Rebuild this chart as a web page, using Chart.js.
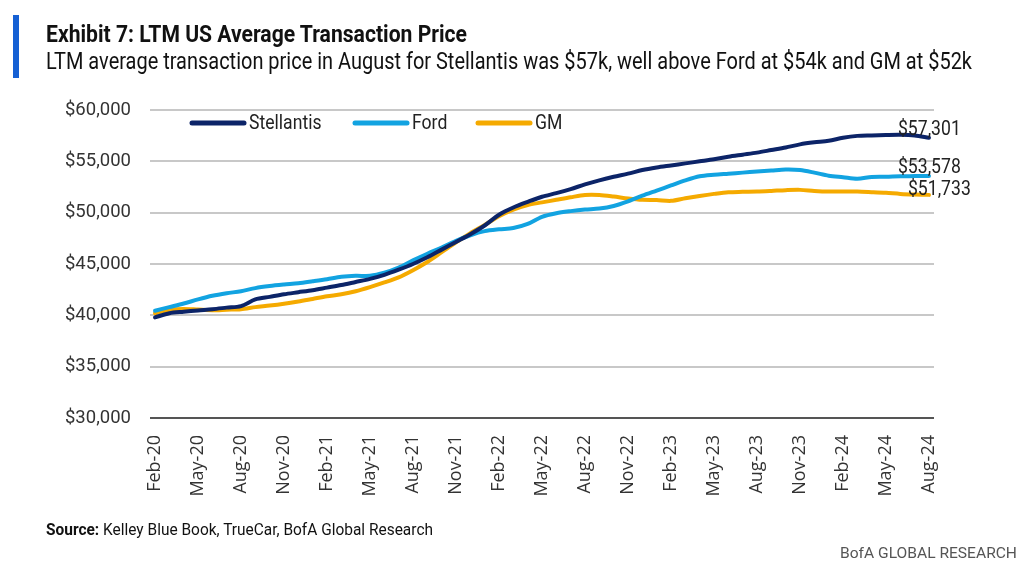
<!DOCTYPE html>
<html><head><meta charset="utf-8">
<script src="https://cdn.jsdelivr.net/npm/chart.js@4.4.1/dist/chart.umd.min.js"></script>
<style>
body{margin:0;width:1024px;height:582px;background:#fff;overflow:hidden;position:relative;font-family:Roboto,"Noto Sans",sans-serif;color:#111}
#wrap{position:absolute;left:0;top:0;width:1024px;height:582px}
#bar{position:absolute;left:13px;top:15px;width:6px;height:63px;background:#1560d4;z-index:2}
.t{position:absolute;white-space:nowrap;transform-origin:0 50%;z-index:2}
#title{left:46px;top:20px;font-weight:700;font-size:24px;line-height:28px;color:#111}
#sub{left:46px;top:48px;font-size:23px;line-height:28px;color:#111}
#src{left:46px;top:518px;font-size:17px;line-height:22px;color:#111}
#brand{top:543px;font-size:15.5px;line-height:20px;color:#555}
</style></head>
<body>
<div id="wrap"><canvas id="c" width="1024" height="582"></canvas></div>
<div id="bar"></div>
<div class="t" id="title" data-w="421">Exhibit 7: LTM US Average Transaction Price</div>
<div class="t" id="sub" data-w="926">LTM average transaction price in August for Stellantis was $57k, well above Ford at $54k and GM at $52k</div>
<div class="t" id="src" data-w="387"><b>Source:</b> Kelley Blue Book, TrueCar, BofA Global Research</div>
<div class="t" id="brand" data-w="177" data-right="1017">BofA GLOBAL RESEARCH</div>
<script>
const months = ["Feb-20","Mar-20","Apr-20","May-20","Jun-20","Jul-20","Aug-20","Sep-20","Oct-20","Nov-20","Dec-20","Jan-21",
"Feb-21","Mar-21","Apr-21","May-21","Jun-21","Jul-21","Aug-21","Sep-21","Oct-21","Nov-21","Dec-21","Jan-22",
"Feb-22","Mar-22","Apr-22","May-22","Jun-22","Jul-22","Aug-22","Sep-22","Oct-22","Nov-22","Dec-22","Jan-23",
"Feb-23","Mar-23","Apr-23","May-23","Jun-23","Jul-23","Aug-23","Sep-23","Oct-23","Nov-23","Dec-23","Jan-24",
"Feb-24","Mar-24","Apr-24","May-24","Jun-24","Jul-24","Aug-24"];
const tickLabels = ["Feb-20","May-20","Aug-20","Nov-20","Feb-21","May-21","Aug-21","Nov-21","Feb-22","May-22","Aug-22","Nov-22","Feb-23","May-23","Aug-23","Nov-23","Feb-24","May-24","Aug-24"];
const stellantis = [39800,40200,40350,40480,40600,40750,40900,41550,41800,42050,42250,42450,
42700,42950,43250,43550,43950,44450,45000,45650,46400,47150,47900,48750,
49800,50500,51050,51550,51900,52300,52750,53150,53500,53800,54150,54400,
54600,54800,55000,55200,55450,55650,55850,56100,56350,56650,56850,57000,
57300,57480,57520,57560,57580,57520,57301];
const ford = [40450,40800,41150,41550,41900,42150,42350,42650,42850,43000,43130,43320,
43520,43750,43850,43850,44150,44650,45350,46000,46600,47250,47800,48200,
48380,48500,48900,49600,49950,50150,50300,50400,50650,51100,51650,52150,
52650,53150,53550,53700,53800,53900,54000,54100,54200,54150,53900,53600,
53450,53300,53480,53500,53550,53560,53578];
const gm = [40200,40550,40620,40560,40500,40550,40600,40800,40950,41130,41350,41600,
41850,42060,42350,42750,43200,43700,44400,45200,46150,47100,48000,48800,
49650,50300,50750,51000,51250,51500,51720,51720,51570,51380,51250,51230,
51150,51400,51630,51830,51990,52030,52060,52120,52190,52220,52120,52060,
52060,52060,52000,51930,51830,51770,51733];
const seriesNames = ["Stellantis","Ford","GM"];
const yTicks = [30000,35000,40000,45000,50000,55000,60000];

// fit condensed-looking text widths
document.querySelectorAll('.t').forEach(el=>{
  const w = el.getBoundingClientRect().width;
  const tw = +el.dataset.w;
  el.style.transform = 'scaleX(' + (tw / w) + ')';
  if (el.dataset.right) el.style.left = (+el.dataset.right - tw) + 'px';
});

const colors = ["#0c2468","#12a3e1","#f5aa00"];
const endOffsets = [[-31,-3],[-31,-3],[-21,0]];
const legendOffsets = [42,205,328];

function condensedText(ctx, text, x, y, targetScale){
  ctx.save(); ctx.translate(x, y); ctx.scale(targetScale, 1); ctx.fillText(text, 0, 0); ctx.restore();
}

const legendPlugin = {
  id:'lg',
  afterDraw(chart){
    const {ctx, chartArea:a} = chart;
    chart.data.datasets.forEach((d,i)=>{
      const x = a.left + legendOffsets[i], y = a.top + 13;
      ctx.save();
      ctx.strokeStyle = d.borderColor; ctx.lineWidth = 5; ctx.lineCap = 'round';
      ctx.beginPath(); ctx.moveTo(x,y); ctx.lineTo(x+52,y); ctx.stroke();
      ctx.fillStyle = '#222'; ctx.font = '20px Roboto'; ctx.textBaseline = 'middle';
      condensedText(ctx, d.label, x+57, y+1, 0.88);
      ctx.restore();
    });
  }
};
const endLabelPlugin = {
  id:'endlbl',
  afterDatasetsDraw(chart){
    const {ctx} = chart;
    chart.data.datasets.forEach((d,i)=>{
      const meta = chart.getDatasetMeta(i);
      const pt = meta.data[meta.data.length-1];
      const v = d.data[d.data.length-1].y;
      ctx.save();
      ctx.fillStyle = '#222'; ctx.font = '20px Roboto'; ctx.textBaseline = 'alphabetic';
      condensedText(ctx, '$' + v.toLocaleString('en-US'), pt.x + endOffsets[i][0], pt.y + endOffsets[i][1], 0.88);
      ctx.restore();
    });
  }
};

const allSeries = [stellantis, ford, gm];
new Chart(document.getElementById('c'), {
  type:'line',
  data:{
    datasets: allSeries.map((s,i)=>({
      label: seriesNames[i],
      data: s.map((v,j)=>({x:j, y:v})),
      borderColor: colors[i], backgroundColor: colors[i],
      borderWidth: 4, pointRadius: 0, tension: 0.3, fill:false,
      borderCapStyle:'round', borderJoinStyle:'round'
    }))
  },
  options:{
    responsive:false, animation:false,
    layout:{padding:{left:0, top:110, right:90, bottom:0}},
    plugins:{legend:{display:false}, tooltip:{enabled:false}},
    scales:{
      x:{
        type:'linear', min:-0.35, max:54.35,
        grid:{display:false}, border:{display:false},
        afterBuildTicks: s => { s.ticks = tickLabels.map(l => ({value: months.indexOf(l)})); },
        ticks:{autoSkip:false, maxRotation:90, minRotation:90, padding:9, color:'#333',
               font:{size:18, family:'"Open Sans"'}, callback: v => months[v]},
        afterFit: s => { s.height = 164; }
      },
      y:{
        min:30000, max:60000,
        afterBuildTicks: s => { s.ticks = yTicks.map(v => ({value:v})); },
        ticks:{padding:19, color:'#333', font:{size:18.5, family:'Roboto'},
               callback: v => '$' + v.toLocaleString('en-US')},
        grid:{color: c => (c.tick && c.tick.value === 30000) ? '#555' : '#c8c8c8', lineWidth:2, drawTicks:false},
        border:{display:false},
        afterFit: s => { s.width = 150; }
      }
    }
  },
  plugins:[legendPlugin, endLabelPlugin]
});
</script>
</body></html>
